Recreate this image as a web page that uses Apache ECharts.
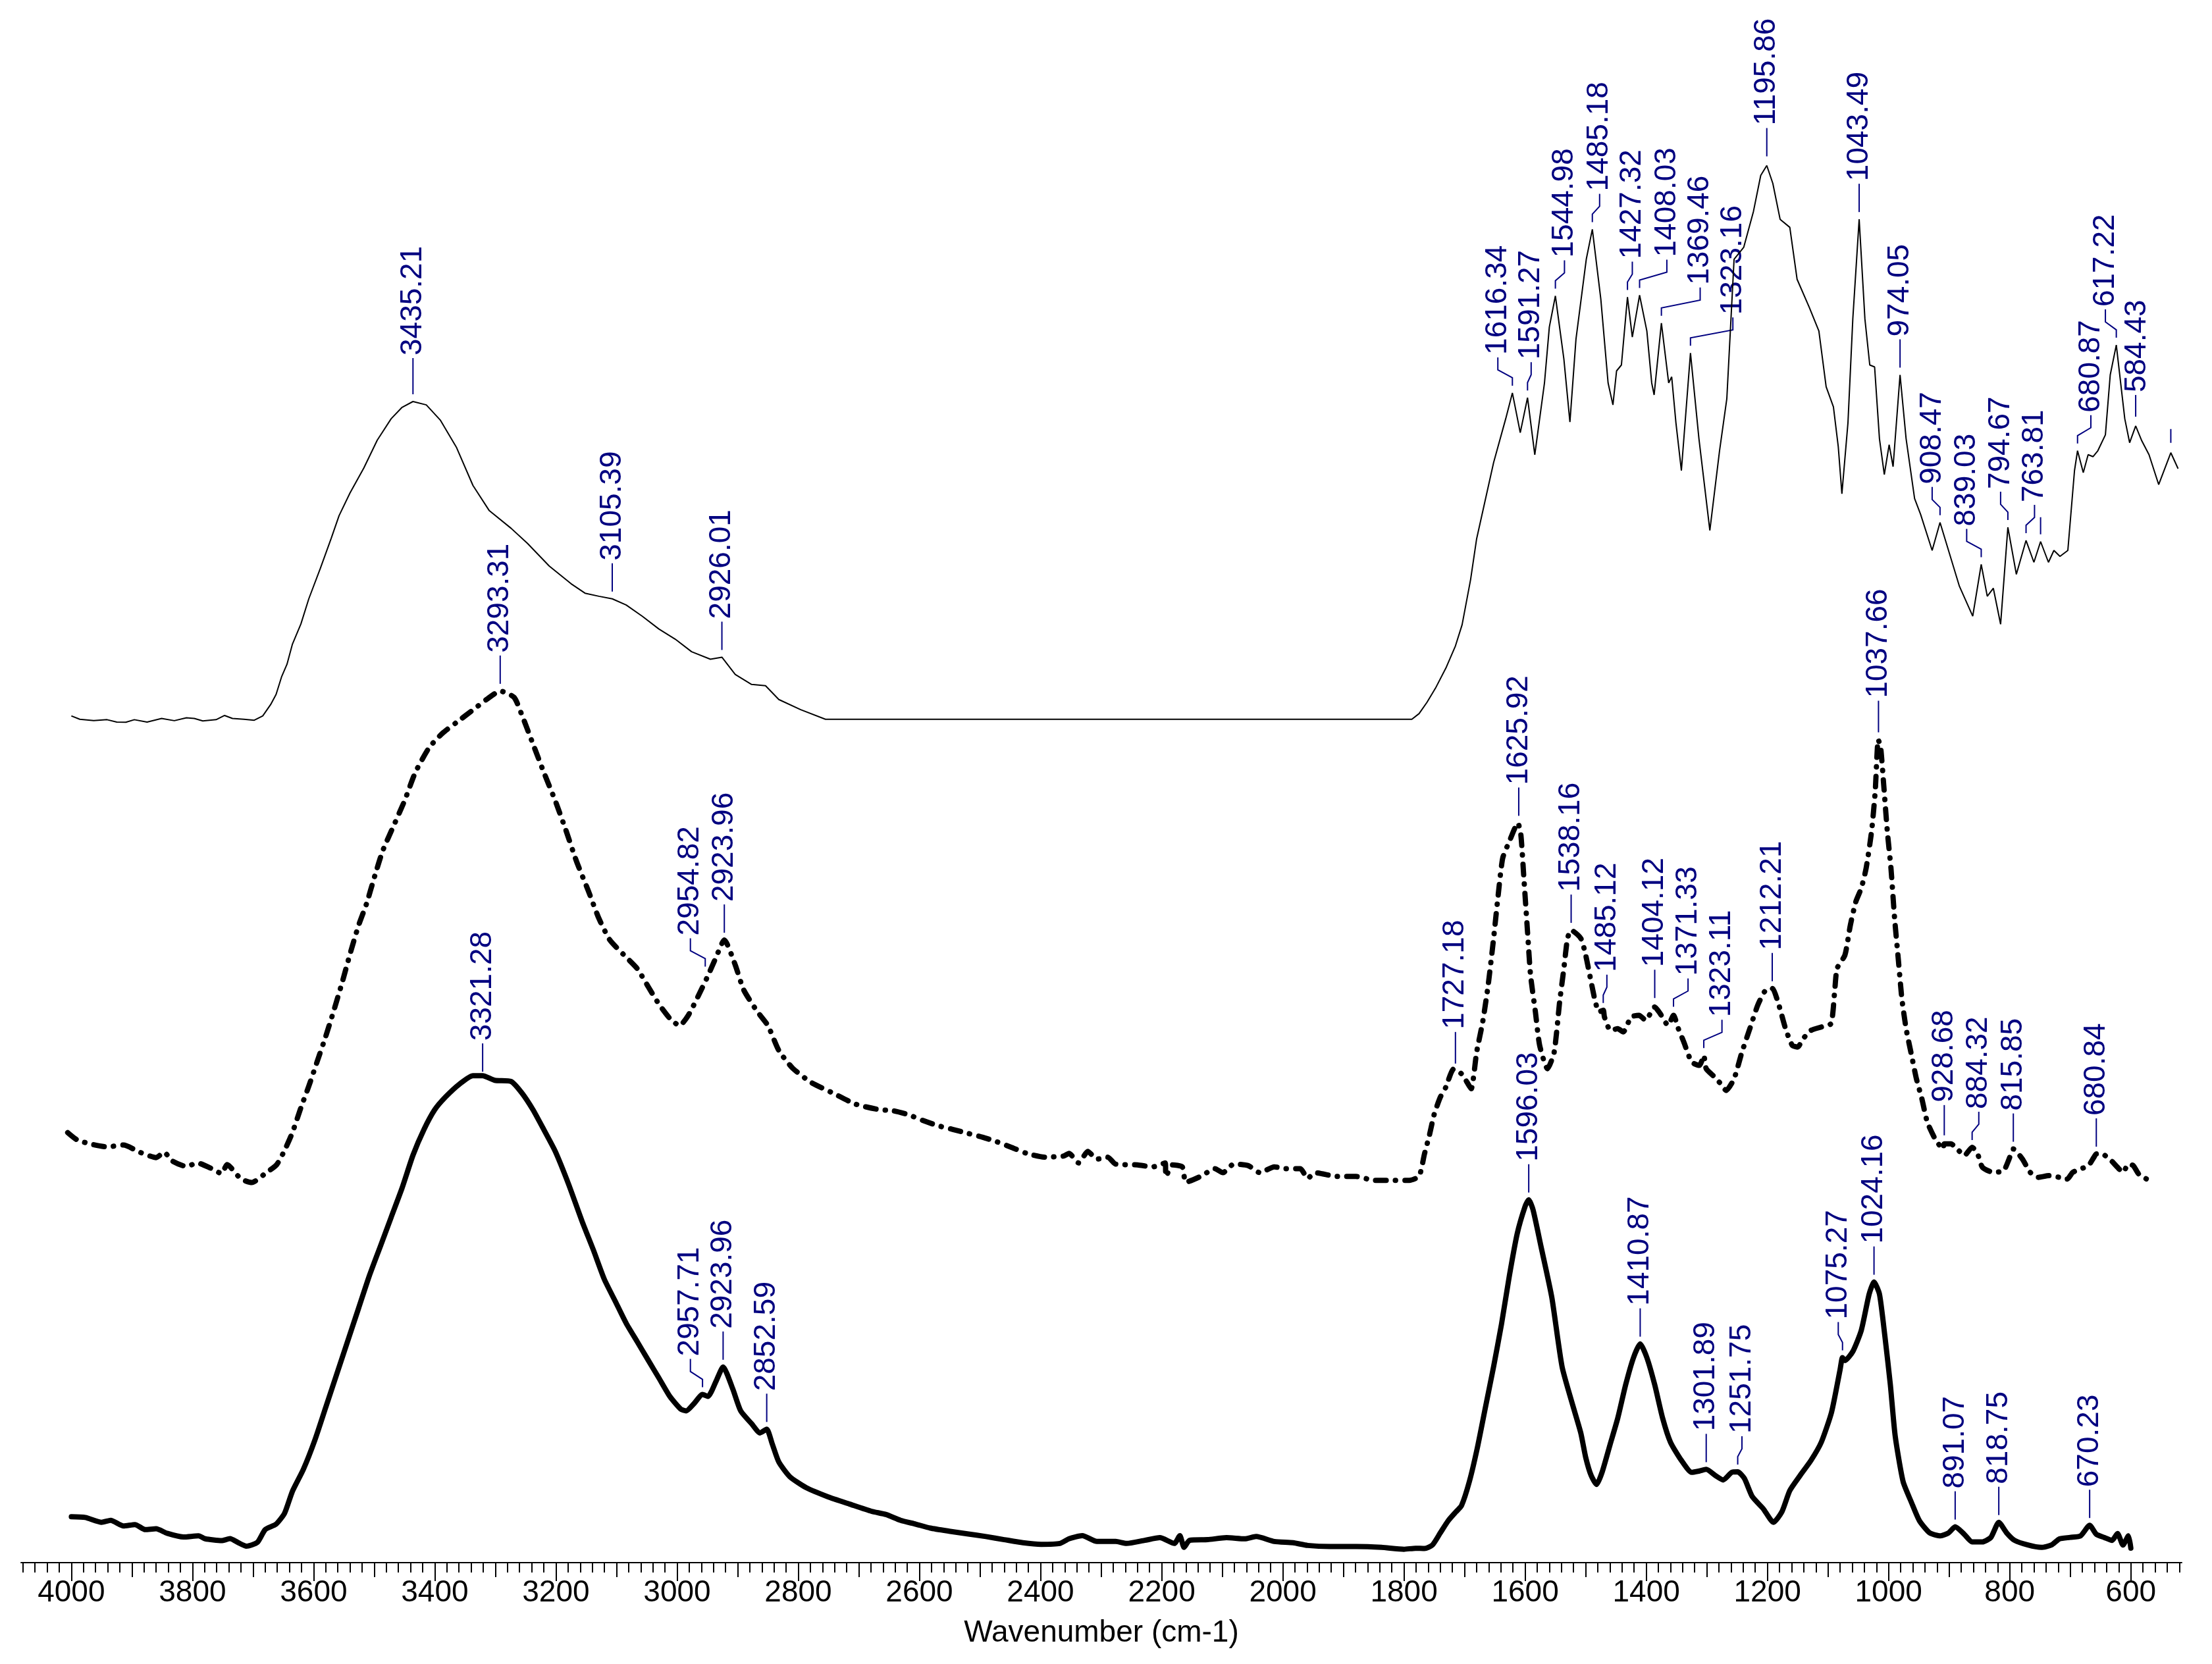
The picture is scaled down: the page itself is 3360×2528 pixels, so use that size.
<!DOCTYPE html>
<html>
<head>
<meta charset="utf-8">
<script src="https://cdn.jsdelivr.net/npm/echarts@6/dist/echarts.min.js"></script>
<style>
  html, body { margin: 0; padding: 0; background: #fff; }
  #chart { width: 3360px; height: 2528px; }
</style>
</head>
<body>
<div id="chart"></div>
<script>
// spectra as [wavenumber, offset height]
const topTrace = [
  [4000, 600.4], [3986, 598], [3963, 597], [3941, 597.7], [3925, 596], [3910, 595.9], [3896, 597.7],
  [3875, 596], [3851, 598.6], [3830, 597], [3810, 599], [3797, 598.6], [3783, 596.8], [3761, 597.7],
  [3747, 600.7], [3734, 598.6], [3715, 598], [3698, 597.3], [3684, 600.4], [3671, 608.4], [3662, 615.6],
  [3653, 628], [3644, 637], [3635, 651.3], [3621, 665.6], [3608, 683.4], [3589, 704.9], [3571, 726.3],
  [3558, 742.4], [3540, 758.4], [3517, 776.3], [3495, 795.9], [3472, 811.1], [3454, 819.2], [3436, 823.3],
  [3414, 820.9], [3391, 810.2], [3364, 790.6], [3337, 763.8], [3310, 745.9], [3274, 733.4], [3247, 722.7],
  [3211, 706.6], [3175, 694.1], [3152, 687.4], [3129, 685.2], [3107, 683.4], [3084, 679], [3057, 670.9],
  [3030, 662], [3003, 654.8], [2976, 645.9], [2945, 640.6], [2926, 642], [2904, 629.8], [2877, 622.7],
  [2854, 621.8], [2832, 612], [2796, 604.8], [2755, 598], [2400, 598], [2100, 598], [1787, 598],
  [1775, 602], [1762, 610], [1748, 620], [1730, 635], [1715, 650], [1704, 665], [1690, 697], [1680, 726],
  [1652, 780], [1632, 811.1], [1621, 829.4], [1608, 801.2], [1596, 826], [1584, 785.6], [1568, 836.5],
  [1560, 876.1], [1550, 898.2], [1536, 853.5], [1526, 808.8], [1516, 867.6], [1499, 924.2], [1489, 945.4],
  [1475, 895.9], [1463, 836.5], [1455, 820.9], [1449, 845], [1441, 849.2], [1431, 897.3], [1423, 869],
  [1411, 898.7], [1399, 873.3], [1391, 836.5], [1387, 828], [1375, 878.9], [1363, 836.5], [1358, 840.8],
  [1351, 808.2], [1342, 774.3], [1327, 857.7], [1313, 796.9], [1295, 731.9], [1279, 788.4], [1267, 825.2],
  [1255, 924.2], [1239, 932.7], [1223, 958.1], [1211, 983.6], [1201, 990.6], [1191, 977.9], [1179, 952.5],
  [1163, 946.8], [1151, 910], [1131, 890.2], [1115, 873.3], [1103, 833.7], [1091, 819.5], [1083, 791.3],
  [1077, 757.9], [1067, 808.2], [1059, 881.8], [1048.5, 952.5], [1039, 881.8], [1031, 849.2], [1023, 847.8],
  [1015, 796.9], [1007, 771.5], [999, 792.7], [992.5, 777.1], [981, 842.2], [971, 796.9], [957, 754.5],
  [947, 743.2], [928, 717.7], [915, 737.5], [899, 714.9], [883, 692.3], [861, 671.1], [847, 707.8],
  [837, 685.2], [827, 690.9], [815, 665.4], [803, 734.1], [789, 700.8], [773, 724.8], [760, 709.3],
  [749, 724], [736, 709.3], [727, 717.7], [717, 713.5], [704, 717.7], [693, 774.3], [688, 788.4],
  [678.5, 772.9], [670.5, 785.6], [662.5, 784.2], [654.5, 788.4], [642, 799.7], [634, 842.2], [624, 863.4],
  [610, 811.1], [602, 794.1], [592, 806], [582, 795.5], [570, 785.6], [554, 764.4], [534, 787], [522, 775.7]
];

const middleTrace = [
  [4006, 304.9], [3991, 299.9], [3968, 296.8], [3941, 294.8], [3914, 296.1], [3887, 291], [3860, 287.2],
  [3847, 291], [3833, 284.7], [3810, 280.9], [3792, 283.4], [3770, 279.7], [3752, 275.9], [3743, 282.2],
  [3720, 272.1], [3702, 269.5], [3680, 275.9], [3661, 282.2], [3648, 292.3], [3635, 305], [3621, 322.6],
  [3608, 337.8], [3594, 355.5], [3580, 373.2], [3567, 391], [3553, 411.2], [3540, 431.4], [3526, 451.6],
  [3513, 466.8], [3499, 487], [3486, 504.7], [3468, 522.4], [3450, 540.1], [3432, 560.4], [3409, 578.1],
  [3387, 588.2], [3364, 595.8], [3337, 604.6], [3314, 612.2], [3292, 618], [3269, 613.5], [3256, 600.8],
  [3238, 580.6], [3220, 560.4], [3201, 540.1], [3184, 519.9], [3166, 497.2], [3147, 476.9], [3129, 456.7],
  [3111, 441.5], [3089, 431.4], [3066, 421.3], [3048, 408.6], [3030, 396], [3012, 385.9], [2996, 380.8],
  [2981, 388.4], [2963, 403.6], [2949, 416.2], [2936, 428.9], [2922, 441.5], [2904, 423.8], [2890, 406.1],
  [2868, 391], [2850, 380.8], [2832, 363.1], [2809, 350.5], [2778, 340.3], [2742, 332.8], [2706, 325.2],
  [2669, 321.4], [2643, 320.4], [2618, 317.6], [2594, 313.5], [2570, 309.9], [2545, 307.2], [2521, 304.5],
  [2496, 301.7], [2472, 298.4], [2447, 294.3], [2423, 290.2], [2392, 287.5], [2362, 288.3], [2353, 290.2],
  [2337, 283.4], [2322, 291.6], [2307, 286.1], [2289, 287.5], [2276, 282.6], [2240, 282], [2215, 280.6],
  [2194, 283.4], [2193, 273.8], [2182, 282], [2166, 280.6], [2160, 269.7], [2136, 273.8], [2112, 279.3],
  [2099, 276.5], [2081, 282.6], [2057, 281.5], [2038, 276.5], [2014, 280.6], [1995, 279.3], [1971, 279.3],
  [1959, 272.4], [1947, 276.5], [1910, 273.8], [1879, 273.8], [1849, 271.1], [1818, 271.1], [1791, 271.1],
  [1775, 274], [1766, 290], [1758, 303], [1750, 318], [1740, 330], [1731, 337], [1718, 350],
  [1705, 346.6], [1696, 340.7], [1689, 336], [1680, 362], [1670, 383.4], [1661, 409.4], [1652, 442.6],
  [1645, 471.1], [1637, 499.5], [1626, 511.4], [1612, 524.4], [1607, 516.1], [1602, 485.3], [1596, 447.4],
  [1591, 416.5], [1583, 390.5], [1576, 366.8], [1563, 350.2], [1552, 362], [1543, 397.6], [1536, 421.3],
  [1530, 442.6], [1524, 448.5], [1508, 442.6], [1500, 430.8], [1491, 411.8], [1484, 397.6], [1478, 390.5],
  [1471, 391.7], [1469, 386.9], [1459, 377.4], [1447, 378.6], [1438, 376.3], [1425, 386.9], [1412, 388.1],
  [1401, 384.6], [1386, 394], [1377, 389.3], [1364, 381], [1355, 388.1], [1347, 378.6], [1338, 369.2],
  [1325, 354.9], [1312, 352.6], [1305, 359.7], [1301, 350.2], [1287, 344.3], [1277, 339.5], [1268, 334.8],
  [1255, 343.1], [1242, 362], [1229, 378.6], [1216, 395.2], [1203, 405.9], [1192, 407.1], [1181, 395.2],
  [1170, 378.6], [1159, 366.8], [1150, 365.6], [1141, 371.5], [1128, 377.4], [1111, 379.8], [1095, 382.2],
  [1089, 404.7], [1085, 421.3], [1072, 430.8], [1063, 452.1], [1054, 468.7], [1045, 478.2], [1037, 492.4],
  [1028, 518.5], [1022, 546.9], [1017, 583.6], [1013, 578], [1008, 551.6], [1002, 518.5], [996, 492.4],
  [990, 456.8], [984, 428.4], [978, 399.9], [971, 378.6], [962, 359.7], [954, 343.1], [945, 328.9],
  [936, 312.3], [923, 300.4], [910, 293.3], [908, 296.9], [897, 296.9], [884, 292.1], [875, 288.6],
  [862, 294.5], [853, 289.8], [845, 280.3], [827, 276.7], [810, 277.9], [801, 286.2], [794, 293.3],
  [779, 286.2], [766, 276.7], [753, 273.2], [735, 274.4], [718, 273.2], [705, 272], [696, 276.7],
  [683, 279.1], [670, 281.5], [661, 287.4], [657, 289.8], [648, 289.8], [635, 286.2], [622, 280.3],
  [613, 276.7], [604, 282.6], [596, 281.5], [587, 275.5], [574, 272]
];

const bottomTrace = [
  [4000, 32.5], [3977, 32], [3950, 28.6], [3935, 30], [3914, 26], [3895, 27], [3878, 23.4], [3860, 24],
  [3842, 20.8], [3815, 18.2], [3790, 19], [3779, 16.9], [3752, 15.6], [3738, 17], [3725, 14.3], [3711, 11.7],
  [3693, 14.3], [3680, 23.4], [3662, 27.3], [3648, 35], [3635, 50.6], [3617, 66.1], [3598, 86.9],
  [3580, 110.2], [3562, 133.5], [3544, 156.8], [3526, 180.1], [3508, 203.4], [3490, 224.1], [3472, 244.9],
  [3454, 265.6], [3436, 288.9], [3418, 307], [3400, 321.2], [3382, 330.3], [3359, 339.4], [3337, 345.3],
  [3321, 345.3], [3301, 342], [3274, 341.2], [3256, 332.9], [3238, 321.2], [3220, 307], [3201, 291.5],
  [3179, 268.2], [3157, 242.2], [3138, 221.5], [3120, 200.8], [3102, 185.3], [3084, 169.7], [3066, 156.8],
  [3048, 143.8], [3030, 130.9], [3012, 117.9], [2994, 108.9], [2985, 107.6], [2972, 112.8], [2958, 119.2],
  [2949, 117.9], [2936, 128.3], [2924, 138.7], [2908, 123.1], [2895, 107.6], [2877, 98.5], [2863, 92],
  [2852, 94.6], [2843, 84.3], [2832, 71.3], [2814, 61], [2787, 53.2], [2751, 46.7], [2715, 41.5],
  [2679, 36.4], [2655, 34.1], [2631, 30], [2606, 27.3], [2582, 24.5], [2551, 22.3], [2521, 20.4],
  [2490, 18.5], [2460, 16.3], [2429, 14.1], [2399, 13], [2368, 13.6], [2353, 16.9], [2331, 19.1],
  [2307, 15], [2276, 15], [2258, 13.6], [2228, 15.8], [2203, 17.7], [2179, 13.6], [2170, 19.1],
  [2163, 10.8], [2154, 15.8], [2124, 16.3], [2093, 17.7], [2063, 16.9], [2044, 18.5], [2014, 15],
  [1983, 14.1], [1959, 12.2], [1922, 11.4], [1879, 11.4], [1837, 10.8], [1800, 9.5], [1781, 10.2],
  [1766, 10], [1753, 12.5], [1740, 21.1], [1727, 29.7], [1714, 36.1], [1705, 40.4], [1692, 57.5],
  [1679, 81.1], [1666, 109], [1652, 139], [1639, 169], [1626, 203.3], [1613, 233.3], [1600, 252.6],
  [1594, 257.3], [1587, 250.4], [1574, 224.7], [1556, 188.3], [1539, 139], [1521, 111.1], [1508, 91.8],
  [1500, 74.7], [1491, 61.8], [1482, 55.4], [1473, 64], [1460, 83.3], [1447, 102.5], [1434, 126.1],
  [1421, 145.4], [1410, 155.1], [1399, 145.4], [1386, 126.1], [1373, 102.5], [1360, 85.4], [1342, 72.5],
  [1325, 64], [1312, 65], [1301, 66.1], [1286, 61.8], [1273, 58.6], [1259, 64], [1249, 64.4],
  [1238, 59.7], [1225, 46.8], [1207, 38.3], [1190, 28.6], [1176, 36.1], [1163, 51.1], [1146, 61.8],
  [1128, 72.5], [1111, 85.4], [1094, 106.8], [1080, 136.8], [1076, 145.4], [1072, 143.3], [1059, 149.7],
  [1045, 164.7], [1032, 190.4], [1024, 199], [1015, 190.4], [1006, 160.4], [997, 126.1], [989, 89.7],
  [976, 57.5], [962, 42.5], [949, 29.7], [932, 21.1], [914, 19], [901, 21.1], [890, 25.4], [875, 20.1],
  [862, 14.7], [845, 14.7], [831, 17.9], [818, 28.6], [805, 21.1], [792, 15.8], [770, 12.5], [748, 10.8],
  [731, 12.5], [718, 16.8], [700, 17.9], [683, 19], [668, 26.5], [657, 20.1], [644, 17.9], [631, 15.8],
  [622, 20.7], [613, 12.5], [604, 19], [600, 10.3]
];

// peak labels: [text, peak wavenumber, peak height, wavenumber of text, leader length px, gap px]
const topPeaks = [
  ['3435.21', 3436, 823.3, 3436, 55], ['3105.39', 3107, 683.4, 3107], ['2926.01', 2926, 642, 2926],
  ['1616.34', 1621, 829.4, 1645], ['1591.27', 1596, 826, 1590], ['1544.98', 1550, 898.2, 1535],
  ['1485.18', 1489, 945.4, 1477], ['1427.32', 1431, 897.3, 1423], ['1408.03', 1411, 898.7, 1366],
  ['1369.46', 1375, 878.9, 1311], ['1323.16', 1327, 857.7, 1257], ['1195.86', 1201, 990.6, 1201, 43, 14],
  ['1043.49', 1048.5, 952.5, 1048.5], ['974.05', 981, 842.2, 981], ['908.47', 915, 737.5, 928],
  ['839.03', 847, 707.8, 871], ['794.67', 803, 734.1, 815], ['763.81', 773, 724.8, 759],
  ['', 749, 724, 749, 26], ['680.87', 688, 788.4, 666], ['617.22', 624, 863.4, 642],
  ['584.43', 592, 806, 590, 33, 14], ['', 534, 787, 534, 21, 15]
];
const middlePeaks = [
  ['3293.31', 3292, 618, 3292], ['2954.82', 2953.5, 417.5, 2978], ['2923.96', 2922, 441.5, 2922],
  ['1727.18', 1715, 347.8, 1715, 48, 13], ['1625.92', 1610.5, 524.4, 1610.5], ['1538.16', 1524, 448.5, 1524],
  ['1485.12', 1471, 391.7, 1465], ['1404.12', 1386, 395.2, 1386], ['1371.33', 1355, 389, 1331],
  ['1323.11', 1305, 359.7, 1275], ['1212.21', 1192, 407.1, 1192], ['1037.66', 1016.6, 583.6, 1016.6, 48],
  ['928.68', 908, 296.9, 908, 46, 13], ['884.32', 862, 294.5, 851], ['815.85', 794, 293.3, 794],
  ['680.84', 657, 289.8, 657]
];
const bottomPeaks = [
  ['3321.28', 3321, 345.3, 3321, 43, 6], ['2957.71', 2958, 119.2, 2978], ['2923.96', 2924, 138.7, 2924],
  ['2852.59', 2852, 94.6, 2852], ['1596.03', 1594, 257.3, 1594], ['1410.87', 1410, 155.1, 1410],
  ['1301.89', 1301, 66.1, 1301], ['1251.75', 1249, 64.4, 1242], ['1075.27', 1076, 145.4, 1083],
  ['1024.16', 1024, 199, 1024], ['891.07', 890, 25.4, 890], ['818.75', 818, 28.6, 818], ['670.23', 668, 26.5, 668]
];

const majorTicks = [4000, 3800, 3600, 3400, 3200, 3000, 2800, 2600, 2400, 2200, 2000, 1800, 1600, 1400, 1200, 1000, 800, 600];
const midTicks = [];
for (let v = 3900; v >= 700; v -= 200) midTicks.push(v);
const minorTicks = [];
for (let v = 4080; v >= 520; v -= 20) if (v % 100 !== 0) minorTicks.push(v);

const BLUE = '#000080';
const FONT = 'Liberation Sans';

let chart = echarts.init(document.getElementById('chart'));

function peakSeries(peaks) {
  return {
    type: 'custom',
    coordinateSystem: 'cartesian2d',
    z: 1,
    silent: true,
    animation: false,
    encode: {x: 0, y: 1},
    data: peaks.map((p) => [p[1], p[2], p[3], p[4] || 43, p[5] || 11]),
    renderItem: function (params, api) {
      const text = peaks[params.dataIndex][0];
      const p = api.coord([api.value(0), api.value(1)]);
      const lx = api.coord([api.value(2), api.value(1)])[0];
      const len = api.value(3);
      const y0 = p[1] - api.value(4);
      const yEnd = y0 - len;
      let pts;
      if (Math.abs(lx - p[0]) < 2) {
        pts = [[p[0], y0], [p[0], yEnd]];
      } else {
        pts = [[p[0], y0], [p[0], y0 - 12], [lx, y0 - 24], [lx, yEnd]];
      }
      const children = [{
        type: 'polyline',
        shape: {points: pts},
        style: {stroke: BLUE, lineWidth: 2, fill: null},
      }];
      if (text) {
        children.push({
          type: 'text',
          x: lx,
          y: yEnd - 4,
          rotation: Math.PI / 2,
          style: {
            text: text,
            fill: BLUE,
            fontSize: 46,
            fontFamily: FONT,
            align: 'left',
            verticalAlign: 'middle',
          },
        });
      }
      return {type: 'group', children: children};
    },
  };
}

function tickAxis(values, len) {
  return {
    type: 'value',
    position: 'bottom',
    inverse: true,
    min: 516,
    max: 4083,
    axisLine: {show: false},
    splitLine: {show: false},
    axisLabel: {show: false},
    axisTick: {show: true, customValues: values, length: len, lineStyle: {color: '#000', width: 2}},
  };
}

let option = {
  backgroundColor: '#fff',
  animation: false,
  grid: {left: 32, right: 46, top: 0, bottom: 154, containLabel: false, outerBoundsMode: 'none'},
  xAxis: [
    {
      type: 'value',
      position: 'bottom',
      inverse: true,
      min: 516,
      max: 4083,
      name: 'Wavenumber (cm-1)',
      nameLocation: 'middle',
      nameGap: 84,
      nameTextStyle: {fontSize: 46, fontFamily: FONT, color: '#000'},
      axisLine: {show: true, lineStyle: {color: '#000', width: 2}},
      splitLine: {show: false},
      axisTick: {show: true, customValues: majorTicks, length: 28, lineStyle: {color: '#000', width: 2}},
      axisLabel: {
        customValues: majorTicks,
        margin: 23,
        fontSize: 46,
        fontFamily: FONT,
        color: '#000',
        formatter: (v) => String(v),
      },
    },
    tickAxis(midTicks, 22),
    tickAxis(minorTicks, 15),
  ],
  yAxis: {type: 'value', min: 0, max: 1108, show: false},
  series: [
    {
      type: 'line',
      data: topTrace,
      showSymbol: false,
      z: 2,
      lineStyle: {color: '#000', width: 2},
    },
    {
      type: 'line',
      data: middleTrace,
      showSymbol: false,
      z: 2,
      smooth: 0.2,
      lineStyle: {color: '#000', width: 8, type: [16, 14, 0.5, 14], cap: 'round', join: 'round'},
    },
    {
      type: 'line',
      data: bottomTrace,
      showSymbol: false,
      z: 2,
      smooth: 0.2,
      lineStyle: {color: '#000', width: 8, cap: 'round', join: 'round'},
    },
    peakSeries(topPeaks),
    peakSeries(middlePeaks),
    peakSeries(bottomPeaks),
  ],
};

chart.setOption(option);
</script>
</body>
</html>
